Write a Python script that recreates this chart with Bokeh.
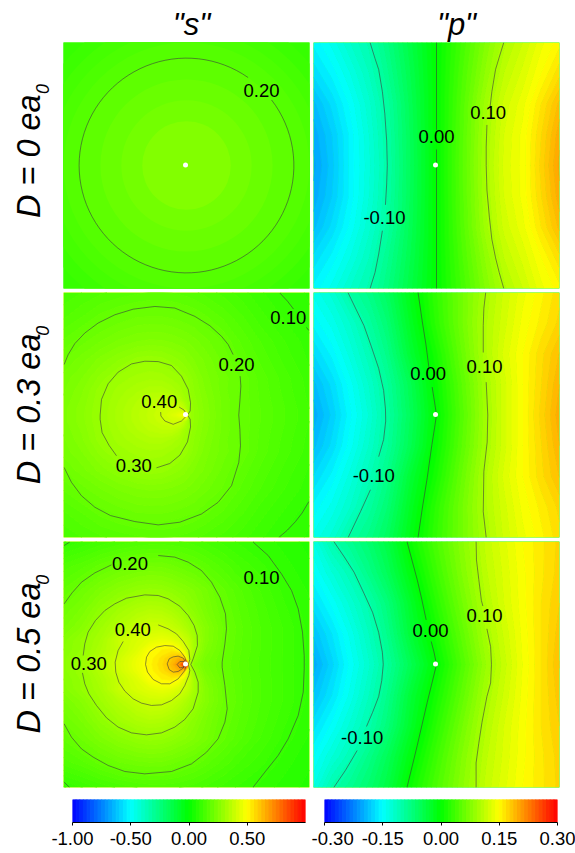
import numpy as np
from bokeh.plotting import figure
from bokeh.layouts import column, row
from bokeh.models import FixedTicker, NumeralTickFormatter
from bokeh.core.properties import value
from bokeh.embed import file_html
from bokeh.resources import INLINE

nan = float("nan")

# ---------- colour bars ----------
s_bar_range = [-1.0, 1.0]
s_bar_ticks = [-1.0, -0.5, 0.0, 0.5]
p_bar_range = [-0.30, 0.30]
p_bar_ticks = [-0.30, -0.15, 0.0, 0.15, 0.30]

# ---------- "s", D = 0: rings of constant value ----------
s0_ring_radius = [1.45, 1.30, 1.20, 1.10, 1.00, 0.873, 0.70, 0.53, 0.36]
s0_ring_value = [0.105, 0.118, 0.135, 0.150, 0.165, 0.185, 0.205, 0.225, 0.255]
s0_020_radius = [0.873]
s0_020_gap_deg = [55.0, 37.6]

# ---------- grids (upper half, the fields mirror at y = 0) ----------
s_grid_x = [-1, -.85, -.7, -.55, -.4, -.3, -.2, -.12, -.06, -.02, 0, .02, .06, .15, .3, .45, .6, .8, 1]
s_grid_y = [0, .05, .12, .2, .3, .45, .6, .8, 1]
s3_values = [
    [.245, .27, .302, .33, .36, .38, .402, .43, .46, .5, .55, .31, .285, .26, .22, .197, .175, .15, .125],
    [.245, .27, .3, .33, .358, .377, .395, .41, .41, .38, .34, .305, .285, .258, .22, .197, .175, .15, .125],
    [.24, .265, .298, .325, .35, .365, .375, .375, .355, .32, .31, .30, .28, .255, .22, .197, .173, .148, .122],
    [.235, .26, .295, .318, .335, .345, .345, .335, .32, .305, .298, .29, .275, .25, .217, .196, .172, .145, .12],
    [.23, .25, .28, .305, .318, .322, .32, .31, .303, .295, .29, .283, .27, .243, .218, .197, .17, .143, .118],
    [.212, .232, .255, .275, .293, .297, .293, .283, .275, .268, .262, .258, .25, .235, .208, .183, .16, .133, .11],
    [.19, .208, .225, .24, .25, .253, .252, .248, .243, .24, .237, .235, .23, .217, .198, .172, .15, .125, .105],
    [.16, .175, .192, .203, .212, .213, .213, .21, .207, .204, .203, .202, .2, .19, .172, .152, .13, .11, .09],
    [.14, .15, .16, .167, .172, .175, .175, .174, .172, .17, .17, .168, .165, .158, .145, .13, .115, .097, .085],
]
s5_values = [
    [.27, .299, .35, .41, .47, .515, .57, .64, .73, .92, 1.0, .35, .27, .23, .198, .17, .148, .122, .095],
    [.27, .298, .348, .405, .465, .51, .56, .615, .66, .6, .48, .38, .295, .235, .2, .171, .148, .122, .096],
    [.262, .29, .335, .385, .44, .495, .525, .535, .495, .445, .41, .39, .325, .25, .204, .174, .15, .122, .096],
    [.255, .29, .325, .39, .425, .445, .46, .45, .425, .397, .385, .37, .325, .26, .207, .175, .15, .122, .096],
    [.235, .265, .31, .35, .385, .403, .403, .385, .365, .345, .335, .325, .305, .26, .21, .176, .15, .122, .095],
    [.215, .24, .28, .315, .34, .35, .345, .33, .312, .298, .29, .28, .27, .24, .2, .17, .145, .115, .09],
    [.19, .215, .245, .27, .288, .293, .29, .28, .27, .265, .26, .258, .25, .23, .19, .162, .137, .107, .085],
    [.155, .17, .192, .21, .22, .223, .222, .215, .208, .203, .2, .198, .195, .18, .157, .133, .117, .092, .077],
    [.098, .112, .128, .14, .15, .153, .154, .152, .15, .148, .147, .146, .143, .135, .12, .108, .095, .082, .07],
]

p_grid_x = [-1, -.85, -.7, -.55, -.4, -.2, 0, .2, .4, .55, .7, .85, 1]
p_grid_y = [0, .25, .5, .75, 1]
p0_values = [
    [-.205, -.183, -.155, -.13, -.10, -.05, 0, .05, .10, .13, .145, .175, .205],
    [-.20, -.18, -.155, -.128, -.098, -.049, 0, .049, .098, .128, .145, .172, .20],
    [-.19, -.17, -.148, -.123, -.095, -.047, 0, .047, .095, .123, .14, .165, .19],
    [-.17, -.155, -.135, -.113, -.085, -.043, 0, .043, .085, .113, .13, .15, .17],
    [-.155, -.14, -.12, -.103, -.077, -.038, 0, .038, .077, .103, .12, .14, .155],
]
p3_values = [
    [-.20, -.178, -.152, -.127, -.096, -.05, 0, .048, .096, .125, .15, .175, .20],
    [-.19, -.17, -.146, -.12, -.092, -.045, .005, .052, .098, .125, .15, .172, .195],
    [-.172, -.155, -.132, -.108, -.08, -.028, .014, .06, .104, .13, .15, .17, .188],
    [-.155, -.14, -.12, -.095, -.068, -.018, .026, .066, .104, .125, .145, .16, .175],
    [-.14, -.125, -.097, -.08, -.056, -.01, .03, .066, .10, .122, .14, .155, .17],
]
p5_values = [
    [-.20, -.175, -.148, -.122, -.092, -.046, 0, .045, .09, .117, .143, .165, .188],
    [-.186, -.165, -.14, -.113, -.082, -.03, .012, .055, .098, .122, .145, .165, .184],
    [-.168, -.148, -.125, -.102, -.072, -.022, .024, .066, .105, .128, .147, .165, .18],
    [-.15, -.128, -.107, -.08, -.052, -.006, .036, .075, .111, .13, .148, .163, .176],
    [-.135, -.103, -.085, -.065, -.04, .008, .045, .08, .115, .133, .15, .163, .175],
]

# ---------- contour lines (nan = break at a label) ----------
s3_010_x = [.76, .82, .87, nan, .975, .995, nan, .995, .94, .886, .82, .75]
s3_010_y = [.995, .93, .865, nan, .715, .69, nan, -.707, -.80, -.87, -.94, -1]
s3_020_x = [-.995, -.962, -.908, -.827, -.718, -.583, -.434, -.257, -.095, .068, .19, .285, .339, .379, nan,
            .436, .442, .434, .425, .434, .439, .425, .366, .257, .122, -.054, -.23, -.42, -.618, -.745, -.854, -.935, -.995]
s3_020_y = [.412, .493, .583, .669, .751, .818, .864, .886, .873, .805, .729, .642, .575, .493, nan,
            .317, .236, .114, 0, -.117, -.252, -.388, -.577, -.713, -.808, -.875, -.897, -.87, -.821, -.753, -.659, -.55, -.428]
s3_030_x = [-.702, -.691, -.637, -.556, -.447, -.339, -.23, -.122, -.041, .014, .033, .03, .008, .03, .033, .008, -.054,
            -.136, -.244, nan, -.569, -.63, -.686, -.702, -.702]
s3_030_y = [0, .127, .255, .35, .417, .439, .436, .404, .317, .209, .1, .033, 0, -.035, -.098, -.22, -.328,
            -.396, -.431, nan, -.333, -.247, -.144, -.035, 0]
s3_040_x = [-.06, -.02, 0, nan, -.21, -.208, -.176, -.108, -.041, 0]
s3_040_y = [.065, .04, .005, nan, .024, -.008, -.049, -.076, -.049, -.008]

s5_010_x = [.542, .664, .772, .854, .908, .943, .957, .957, .949, .908, .827, .745, .637, .542, nan, -.995, -.95, nan, -.995, -.95]
s5_010_y = [.995, .886, .737, .602, .453, .263, .073, -.035, -.225, -.415, -.604, -.74, -.875, -.997, nan, .967, .995, nan, -.957, -1]
s5_020_x = [-.995, -.93, -.854, -.745, -.61, nan, -.23, -.095, .014, .122, .203, .271, .317, .325, .312, .29, .29, .312, .331,
            .312, .257, .163, .041, -.122, -.339, -.501, -.637, -.759, -.854, -.935, -.995]
s5_020_y = [.493, .583, .669, .745, .81, nan, .886, .873, .832, .764, .669, .547, .412, .29, .168, .019, -.022, -.171, -.36,
            -.469, -.604, -.713, -.808, -.87, -.889, -.87, -.821, -.753, -.686, -.591, -.482]
s5_030_x = [-.84, -.827, -.8, -.74, -.664, -.583, -.488, -.339, -.23, -.149, -.054, .014, .062, .087, .089, .054, .035, .068, .095,
            .095, .054, -.014, -.095, -.203, -.325, -.447, -.556, -.65, -.732, -.794, -.827, -.846]
s5_030_y = [.073, .168, .263, .358, .439, .493, .539, .566, .561, .534, .474, .398, .317, .236, .154, .046, 0, -.062, -.144,
            -.225, -.36, -.447, -.509, -.556, -.572, -.556, -.509, -.434, -.333, -.238, -.157, -.068]
s5_040_x = [-.515, -.556, -.58, -.575, -.55, -.501, -.434, -.366, -.285, -.203, -.122, -.054, -.014, .019, .027, .014, .027, .019,
            -.027, -.081, -.149, -.23]
s5_040_y = [.187, .114, .019, -.062, -.144, -.217, -.279, -.314, -.333, -.328, -.293, -.238, -.171, -.089, -.049, 0, .041, .114,
            .187, .249, .29, .322]
s5_050_x = [-.333, -.325, -.298, -.244, -.176, -.108, -.054, -.014, 0, -.014, -.068, -.136, -.203, -.271, -.317, -.333]
s5_050_y = [0, .06, .106, .141, .154, .149, .114, .06, .014, -.049, -.117, -.157, -.157, -.122, -.062, 0]
s5_060_x = [-.157, -.141, -.108, -.068, -.027, -.005, -.027, -.068, -.108, -.141, -.157]
s5_060_y = [.005, .046, .062, .068, .052, .014, -.03, -.057, -.062, -.041, .005]
s5_070_x = [-.076, -.054, -.02, -.02, -.054, -.076]
s5_070_y = [0, .024, .024, -.02, -.028, 0]

p0_m010_x = [-.54, -.5, -.47, -.44, -.42, -.405, -.40, -.405, -.415, nan, -.44, -.47, -.5, -.54]
p0_m010_y = [1, .87, .78, .6, .42, .2, 0, -.15, -.32, nan, -.53, -.72, -.87, -1]
p0_000_x = [0, 0, nan, 0, 0]
p0_000_y = [1, .29, nan, .13, -1]
p0_010_x = [.547, .51, .48, .45, .435, nan, .41, .404, .404, .41, .43, .45, .48, .51, .547]
p0_010_y = [1, .88, .78, .6, .47, nan, .33, .15, 0, -.2, -.42, -.6, -.75, -.87, -1]

p3_m010_x = [-.72, -.655, -.59, -.53, -.47, -.43, -.415, -.413, -.43, -.47, nan, -.537, -.618, -.718]
p3_m010_y = [1, .865, .73, .56, .38, .2, .05, -.05, -.2, -.34, nan, -.61, -.789, -1]
p3_000_x = [-.15, -.115, -.085, -.062, nan, -.035, -.015, 0, -.015, -.04, -.075, -.115, -.15]
p3_000_y = [1, .76, .57, .39, nan, .228, .1, 0, -.1, -.26, -.51, -.76, -1]
p3_010_x = [.40, .385, .38, .38, nan, .404, .417, .412, .385, .38, .404]
p3_010_y = [1, .87, .73, .51, nan, .268, 0, -.22, -.46, -.79, -1]

p5_m010_x = [-.835, -.75, -.67, -.595, -.52, -.47, -.44, -.433, -.445, -.47, -.52, -.569, nan, -.645, -.74, -.835]
p5_m010_y = [1, .875, .75, .59, .425, .26, .1, 0, -.13, -.26, -.39, -.504, nan, -.699, -.86, -1]
p5_000_x = [-.24, -.2, -.157, -.12, -.084, nan, -.043, -.02, 0, -.076, -.157, -.24]
p5_000_y = [1, .85, .69, .53, .363, nan, .187, .1, 0, -.31, -.66, -1]
p5_010_x = [.322, .325, .344, .365, .377, nan, .41, .44, .447, .44, .41, .37, .344, .322, .322]
p5_010_y = [1, .85, .69, .52, .475, nan, .29, .145, 0, -.15, -.26, -.47, -.64, -.8, -1]

# ---------- contour labels ----------
s0_label_text = ["0.20"]
s0_label_x = [.61]
s0_label_y = [.60]
p0_label_text = ["0.10", "0.00", "-0.10"]
p0_label_x = [.42, 0, -.423]
p0_label_y = [.417, .22, -.436]
s3_label_text = ["0.10", "0.20", "0.40", "0.30"]
s3_label_x = [.827, .407, -.222, -.428]
s3_label_y = [.783, .404, .10, -.425]
p3_label_text = ["0.00", "0.10", "-0.10"]
p3_label_x = [-.068, .39, -.51]
p3_label_y = [.328, .385, -.51]
s5_label_text = ["0.20", "0.10", "0.40", "0.30"]
s5_label_x = [-.46, .61, -.436, -.794]
s5_label_y = [.805, .696, .276, 0]
p5_label_text = ["0.10", "0.00", "-0.10"]
p5_label_x = [.39, -.049, -.604]
p5_label_y = [.39, .268, -.604]

column_titles = ['"s"', '"p"']
row_titles = ["D = 0 ea", "D = 0.3 ea", "D = 0.5 ea"]
row_title_sub = "0"

# ---------- drawing ----------
FONT = "Liberation Sans"
STOP_T = [0, .25, .5, .75, 1]
STOP_R = [0, 0, 0, 255, 255]
STOP_G = [0, 255, 255, 255, 0]
STOP_B = [255, 255, 0, 0, 0]


def rainbow(t):
    r = int(round(float(np.interp(t, STOP_T, STOP_R))))
    g = int(round(float(np.interp(t, STOP_T, STOP_G))))
    b = int(round(float(np.interp(t, STOP_T, STOP_B))))
    return "#%02x%02x%02x" % (r, g, b)


def color_of(v, rng):
    return rainbow((v - rng[0]) / (rng[1] - rng[0]))


def panel(top_h, frame_h, left):
    w = 248 if left else 264
    b_left, b_right = (0, 2) if left else (2, 16)
    f = figure(width=w, height=top_h + frame_h + 2, x_range=(-1, 1), y_range=(-1, 1),
               min_border_left=b_left, min_border_right=b_right, min_border_top=top_h,
               min_border_bottom=2, toolbar_location=None, output_backend="svg",
               x_axis_type=None, y_axis_type=None)
    f.grid.visible = False
    f.outline_line_color = None
    f.border_fill_color = "white"
    return f


def strip(w, h):
    f = figure(width=w, height=h, x_range=(0, w), y_range=(0, h), min_border=0,
               toolbar_location=None, output_backend="svg", x_axis_type=None, y_axis_type=None)
    f.grid.visible = False
    f.outline_line_color = None
    return f


def field(f, grid_x, grid_y, rows, levels, rng):
    half = np.array(rows, dtype=float)
    z = np.vstack([half[:0:-1], half])
    y = np.concatenate([-np.array(grid_y[:0:-1], dtype=float), np.array(grid_y, dtype=float)])
    x = np.array(grid_x, dtype=float)
    lv = np.array(levels)
    fills = [color_of(0.5 * (a + b), rng) for a, b in zip(lv[:-1], lv[1:])]
    lines = [color_of(a, rng) for a in lv]
    f.background_fill_color = fills[len(fills) // 2]
    f.contour(x, y, z, levels=lv, fill_color=fills, line_color=lines, line_width=1)


def draw_line(f, xs, ys):
    f.line(xs, ys, line_color="#3c3c3c", line_width=0.8, line_alpha=0.75)


def finish(f, texts, xs, ys):
    f.scatter([-.008], [.005], size=5, marker="circle", fill_color="white", line_color=None)
    f.text(xs, ys, text=texts, text_font=value(FONT), text_font_size="18.5px",
           text_align="center", text_baseline="middle", text_color="black", y_offset=-1.5)


s_levels = list(np.arange(0.05, 0.5, 0.0125)) + list(np.arange(0.5, 1.051, 0.025))
p_levels = list(np.arange(-0.225, 0.2251, 0.0075))

# row 1
fs0 = panel(0, 246, True)
fs0.background_fill_color = color_of(0.095, s_bar_range)
fs0.circle(x=[0] * len(s0_ring_radius), y=[0] * len(s0_ring_radius), radius=s0_ring_radius,
           fill_color=[color_of(v, s_bar_range) for v in s0_ring_value], line_color=None)
fs0.arc(x=[0], y=[0], radius=s0_020_radius, start_angle=s0_020_gap_deg[0], end_angle=s0_020_gap_deg[1],
        start_angle_units="deg", end_angle_units="deg", direction="anticlock",
        line_color="#3c3c3c", line_width=0.8, line_alpha=0.75)
finish(fs0, s0_label_text, s0_label_x, s0_label_y)

fp0 = panel(0, 246, False)
field(fp0, p_grid_x, p_grid_y, p0_values, p_levels, p_bar_range)
for xs, ys in [(p0_m010_x, p0_m010_y), (p0_000_x, p0_000_y), (p0_010_x, p0_010_y)]:
    draw_line(fp0, xs, ys)
finish(fp0, p0_label_text, p0_label_x, p0_label_y)

# row 2
fs3 = panel(2, 245, True)
field(fs3, s_grid_x, s_grid_y, s3_values, s_levels, s_bar_range)
for xs, ys in [(s3_010_x, s3_010_y), (s3_020_x, s3_020_y), (s3_030_x, s3_030_y), (s3_040_x, s3_040_y)]:
    draw_line(fs3, xs, ys)
finish(fs3, s3_label_text, s3_label_x, s3_label_y)

fp3 = panel(2, 245, False)
field(fp3, p_grid_x, p_grid_y, p3_values, p_levels, p_bar_range)
for xs, ys in [(p3_m010_x, p3_m010_y), (p3_000_x, p3_000_y), (p3_010_x, p3_010_y)]:
    draw_line(fp3, xs, ys)
finish(fp3, p3_label_text, p3_label_x, p3_label_y)

# row 3
fs5 = panel(2, 246, True)
field(fs5, s_grid_x, s_grid_y, s5_values, s_levels, s_bar_range)
for xs, ys in [(s5_010_x, s5_010_y), (s5_020_x, s5_020_y), (s5_030_x, s5_030_y), (s5_040_x, s5_040_y),
               (s5_050_x, s5_050_y), (s5_060_x, s5_060_y), (s5_070_x, s5_070_y)]:
    draw_line(fs5, xs, ys)
finish(fs5, s5_label_text, s5_label_x, s5_label_y)

fp5 = panel(2, 246, False)
field(fp5, p_grid_x, p_grid_y, p5_values, p_levels, p_bar_range)
for xs, ys in [(p5_m010_x, p5_m010_y), (p5_000_x, p5_000_y), (p5_010_x, p5_010_y)]:
    draw_line(fp5, xs, ys)
finish(fp5, p5_label_text, p5_label_x, p5_label_y)

# titles over the columns
top = strip(575, 42)
top.text([191, 456], [18, 18], text=column_titles, text_font=value(FONT), text_font_size="31px",
         text_font_style="italic", text_align="center", text_baseline="alphabetic", text_color="black")


def row_strip(h, title, y0, y_sub):
    f = strip(63, h)
    f.text([28], [y0], text=[title], angle=90, angle_units="deg", text_font=value(FONT),
           text_font_size="32.5px", text_font_style="italic", text_align="left",
           text_baseline="alphabetic", text_color="black")
    f.text([42], [y_sub], text=[row_title_sub], angle=90, angle_units="deg", text_font=value(FONT),
           text_font_size="18px", text_font_style="italic", text_align="left",
           text_baseline="alphabetic", text_color="black")
    return f


left0 = row_strip(248, row_titles[0], 71, 196)
left3 = row_strip(249, row_titles[1], 54, 205)
left5 = row_strip(250, row_titles[2], 55, 206)


def colorbar(rng, ticks, width, b_left, b_right):
    f = figure(width=width, height=62, x_range=(rng[0], rng[1]), y_range=(0, 1),
               min_border_left=b_left, min_border_right=b_right, min_border_top=10,
               min_border_bottom=29, toolbar_location=None, output_backend="svg",
               y_axis_type=None)
    f.grid.visible = False
    f.outline_line_color = None
    edges = np.linspace(rng[0], rng[1], 65)
    mids = 0.5 * (edges[:-1] + edges[1:])
    f.quad(left=edges[:-1], right=edges[1:], bottom=0, top=1,
           fill_color=[color_of(v, rng) for v in mids], line_color=[color_of(v, rng) for v in mids])
    ax = f.xaxis[0]
    ax.ticker = FixedTicker(ticks=ticks)
    ax.formatter = NumeralTickFormatter(format="0.00")
    ax.major_tick_in = 0
    ax.major_tick_out = 3
    ax.minor_tick_out = 0
    ax.minor_tick_in = 0
    ax.major_label_standoff = 6
    ax.axis_line_color = "black"
    ax.major_tick_line_color = "black"
    ax.major_label_text_font = FONT
    ax.major_label_text_font_size = "18.5px"
    ax.major_label_text_color = "black"
    return f


bar_s = colorbar(s_bar_range, s_bar_ticks, 311, 72, 6)
bar_p = colorbar(p_bar_range, p_bar_ticks, 264, 13, 18)

page = column(top, row(left0, fs0, fp0), row(left3, fs3, fp3), row(left5, fs5, fp5), row(bar_s, bar_p))
open("out.html", "w").write(file_html(page, INLINE))
